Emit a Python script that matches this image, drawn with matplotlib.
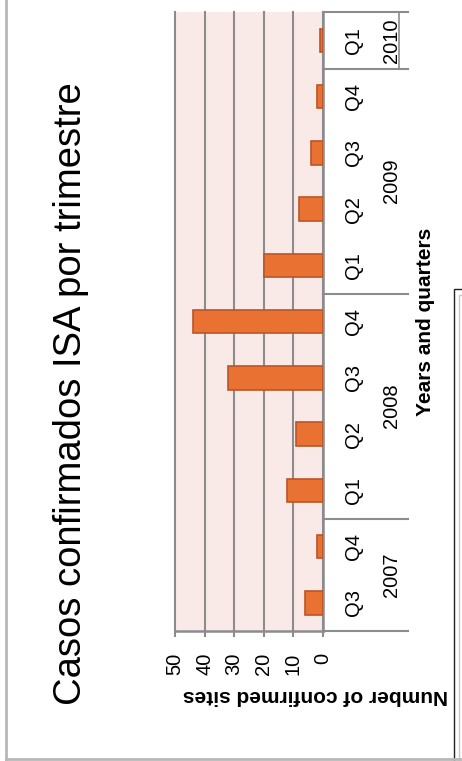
import matplotlib
matplotlib.use('Agg')
import matplotlib.pyplot as plt
from matplotlib.patches import Rectangle

quarters = ['Q3', 'Q4', 'Q1', 'Q2', 'Q3', 'Q4', 'Q1', 'Q2', 'Q3', 'Q4', 'Q1']
years = ['2007', '2008', '2009', '2010']
year_sizes = [2, 4, 4, 1]
cases = [6, 2, 12, 9, 32, 44, 20, 8, 4, 2, 1]
value_ticks = [0, 10, 20, 30, 40, 50]

title = 'Casos confirmados ISA por trimestre'
value_label = 'Number of confirmed sites'
cat_label = 'Years and quarters'

plt.rcParams['font.family'] = ['Liberation Sans', 'DejaVu Sans']

W, H = 462, 761
fig = plt.figure(figsize=(W / 100, H / 100), dpi=100)

grey = '#8c8c8c'
ax = fig.add_axes([175 / W, 1 - 631 / H, 148 / W, (631 - 12.3) / H])
ax.set_facecolor('#faeae7')

pos = list(range(len(cases)))
ax.barh(pos, cases, height=0.42, color='#e97132', edgecolor='#b9552a',
        linewidth=1.2, zorder=3)

ax.set_xlim(50, 0)
ax.set_ylim(-0.5, len(cases) - 0.5)
ax.set_xticks(value_ticks)
ax.set_xticklabels([str(v) for v in value_ticks], rotation=90, fontsize=14.5)
ax.grid(axis='x', color=grey, linewidth=1.5, zorder=1)
for gl in ax.get_xgridlines():
    gl.set_clip_on(False)
ax.set_axisbelow(True)

ax.yaxis.tick_right()
ax.set_yticks(pos)
ax.set_yticklabels(quarters, rotation=90, fontsize=14.5, va='center')
ax.tick_params(axis='y', length=0, pad=15)
ax.tick_params(axis='x', length=4.5, width=1.5, color=grey, pad=11)

for s in ['left', 'top']:
    ax.spines[s].set_visible(False)
for s in ['right', 'bottom']:
    ax.spines[s].set_color(grey)
    ax.spines[s].set_linewidth(1.8)

# multi-level category axis: group separators and year labels
trans = ax.get_yaxis_transform()
x_end = (408 - 175) / 148
start = -0.5
bounds = [start]
for n in year_sizes:
    bounds.append(bounds[-1] + n)
for b in bounds:
    ax.plot([1.0, x_end], [b, b], color=grey, linewidth=1.5,
            transform=trans, clip_on=False)
for yr, a, b in zip(years, bounds[:-1], bounds[1:]):
    ax.text((392 - 175) / 148, (a + b) / 2, yr, rotation=90, fontsize=14.5,
            ha='center', va='center', transform=trans)
ax.plot([(399 - 175) / 148] * 2, [bounds[-2], bounds[-1]], color=grey,
        linewidth=1.2, transform=trans, clip_on=False)

ax.text((426 - 175) / 148, 0.5, cat_label, rotation=90, fontsize=15,
        fontweight='bold', ha='center', va='center', transform=ax.transAxes)

fig.text(315 / W, 1 - 695 / H, value_label, rotation=180, fontsize=15,
         fontweight='bold', ha='center', va='center')

fig.text(71 / W, 1 - 394 / H, title, rotation=90, fontsize=27.5,
         ha='center', va='center')

# chart-area border (left and bottom edges are in view)
fig.add_artist(plt.Line2D([6 / W, 6 / W], [1 - 759 / H, 1.0],
                          color='#b8b8b8', linewidth=2, transform=fig.transFigure))
fig.add_artist(plt.Line2D([6 / W, 1.0], [1 - 759 / H, 1 - 759 / H],
                          color='#b8b8b8', linewidth=2, transform=fig.transFigure))

# corner of a neighbouring frame at the bottom right
fig.add_artist(Rectangle((453.5 / W, -0.1), 0.2, 0.1 + (761 - 288.5) / H,
                         fill=False, edgecolor='#222222', linewidth=1,
                         transform=fig.transFigure))
fig.add_artist(Rectangle((458.5 / W, -0.1), 0.2, 0.1 + (761 - 295) / H,
                         fill=False, edgecolor='#c8c8c8', linewidth=1,
                         transform=fig.transFigure))

fig.savefig('out.png', dpi=100)
